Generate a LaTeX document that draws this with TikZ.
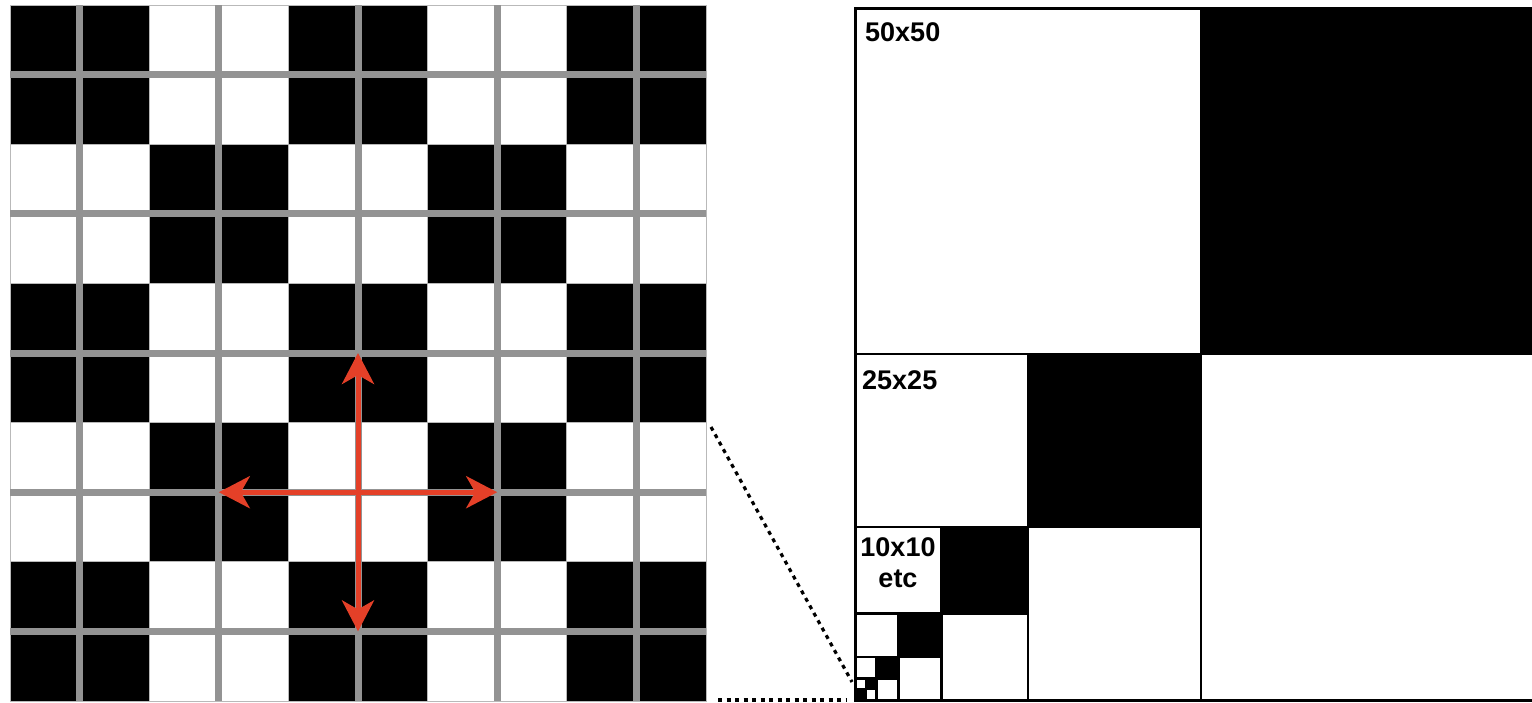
\documentclass[tikz,border=0pt]{standalone}
\usepackage{fontspec}
\setmainfont{Liberation Sans}
\usetikzlibrary{arrows.meta}
\definecolor{gridgray}{RGB}{147,147,147}
\definecolor{cellline}{RGB}{185,185,185}
\definecolor{arrowred}{RGB}{228,64,40}

\begin{document}
\begin{tikzpicture}[x=1pt, y=-1pt,
    cell/.style={draw=cellline, line width=0.8pt},
    gridln/.style={draw=gridgray, line width=7pt},
    arr/.style={-{Stealth[length=31pt, width=32pt, inset=9pt]}, draw=arrowred, line width=5pt},
    wsq/.style={fill=white, draw=black, line width=2.5pt},
    bsq/.style={fill=black},
    zoomln/.style={black, line width=3.2pt, dash pattern=on 4pt off 4.5pt},
    lbl/.style={font=\fontsize{27}{31}\selectfont\bfseries, inner sep=0pt, align=center}
]
\useasboundingbox (0,0) rectangle (1532,702);
\begin{scope}
\clip (0,0) rectangle (1532,702);

% checkerboard of 2x2 blocks
\foreach \c in {0,...,9}{
  \foreach \r in {0,...,9}{
    \pgfmathtruncatemacro{\blk}{mod(int(\c/2)+int(\r/2),2)}
    \ifnum\blk=0 \def\cellfill{black}\else\def\cellfill{white}\fi
    \path[cell, fill=\cellfill] (10+69.6*\c, 5+69.6*\r) rectangle ++(69.6,69.6);
  }
}
\foreach \k in {0,...,4}{
  \draw[gridln] (79.6+139.2*\k, 5) -- ++(0,696);
  \draw[gridln] (10, 74.6+139.2*\k) -- ++(696,0);
}

% neighbours
\coordinate (ctr) at (358,492.2);
\coordinate (up) at (358,353);
\coordinate (dn) at (358,631.4);
\coordinate (lf) at (218.8,492.2);
\coordinate (rt) at (497.2,492.2);
\draw[arr] (ctr) -- (up);
\draw[arr] (ctr) -- (dn);
\draw[arr] (ctr) -- (lf);
\draw[arr] (ctr) -- (rt);

% nested squares
\foreach \i in {0,...,5}{
  \pgfmathsetmacro{\L}{692/2^\i}
  \pgfmathsetmacro{\h}{\L/2}
  \path[bsq] (855+\h, 700-\L) rectangle (855+\L, 700-\h);
  \path[wsq] (855, 700-\L) rectangle (855+\h, 700-\h);
  \path[wsq] (855+\h, 700-\h) rectangle (855+\L, 700);
}
\path[bsq] (855, 689.2) rectangle (865.8, 700);
\draw[line width=3pt] (855,8) rectangle (1547,700);

\node[lbl, anchor=north west] (lbl50) at (865,22) {50x50};
\node[lbl, anchor=north west] (lbl25) at (862,370) {25x25};
\node[lbl, anchor=north] (lbl10) at (898,537) {10x10\\etc};

% zoom lines
\coordinate (zA) at (711,427);
\coordinate (zB) at (852,682);
\coordinate (zC) at (718,700);
\coordinate (zD) at (847,700);
\draw[zoomln] (zA) -- (zB);
\draw[zoomln] (zC) -- (zD);
\end{scope}
\end{tikzpicture}
\end{document}
